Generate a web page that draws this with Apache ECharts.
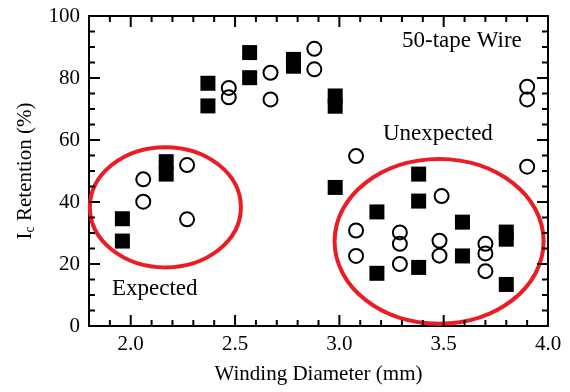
<!DOCTYPE html>
<html>
<head>
<meta charset="utf-8">
<script src="https://cdn.jsdelivr.net/npm/echarts@6/dist/echarts.min.js"></script>
<style>
  html, body { margin: 0; padding: 0; background: #fff; }
  #chart { width: 570px; height: 392px; }
</style>
</head>
<body>
<div id="chart"></div>
<script>
// filled squares
const squareX = [1.96, 1.96, 2.17, 2.17, 2.37, 2.37, 2.57, 2.57, 2.78, 2.78, 2.98, 2.98, 2.98, 3.18, 3.18, 3.38, 3.38, 3.38, 3.59, 3.59, 3.80, 3.80, 3.80]
const squareY = [34.6, 27.4, 53.0, 49.0, 78.3, 71.0, 88.2, 80.1, 86.0, 83.8, 74.2, 70.9, 44.7, 36.8, 17.0, 49.0, 40.3, 18.9, 33.5, 22.6, 30.3, 28.0, 13.4]
// open circles
const circleX = [2.06, 2.06, 2.27, 2.27, 2.47, 2.47, 2.67, 2.67, 2.88, 2.88, 3.08, 3.08, 3.08, 3.29, 3.29, 3.29, 3.49, 3.48, 3.48, 3.70, 3.70, 3.70, 3.90, 3.90, 3.90]
const circleY = [47.3, 40.1, 51.9, 34.4, 76.8, 73.8, 81.7, 73.1, 89.4, 82.8, 54.8, 30.8, 22.6, 30.2, 26.5, 20.0, 41.9, 27.5, 22.7, 26.5, 23.4, 17.7, 77.2, 73.1, 51.4]
// red ellipses: centre x, centre y, radius x, radius y (data units)
const ellipses = [
  [2.166, 38.3, 0.362, 19.4],
  [3.478, 27.3, 0.501, 26.6]
]
// tick marks (long ones carry labels)
const xMajorTicks = [2.0, 2.5, 3.0, 3.5]
const xMinorTicks = [1.9, 2.1, 2.2, 2.3, 2.4, 2.6, 2.7, 2.8, 2.9, 3.1, 3.2, 3.3, 3.4, 3.6, 3.7, 3.8, 3.9]
const yMajorTicks = [20, 40, 60, 80]
const yMinorTicks = [5, 10, 15, 25, 30, 35, 45, 50, 55, 65, 70, 75, 85, 90, 95]

const xMin = 1.8, xMax = 4.0, yMin = 0, yMax = 100

const font = '"Liberation Serif", "Times New Roman", serif'
const black = '#000'

const chart = echarts.init(document.getElementById('chart'))

function isHalf(v) {
  return Math.abs(v * 2 - Math.round(v * 2)) < 1e-6
}

function xAxisDef(pos, withLabels) {
  return {
    type: 'value',
    position: pos,
    min: xMin,
    max: xMax,
    interval: 0.1,
    axisLine: { show: true, onZero: false, lineStyle: { color: black, width: 2 } },
    axisTick: { show: false },
    axisLabel: withLabels ? {
      show: true,
      formatter: v => (isHalf(v) && v > 1.9 ? v.toFixed(1) : ''),
      color: black,
      fontFamily: font,
      fontSize: 21,
      margin: 8
    } : { show: false },
    splitLine: { show: false },
    name: withLabels ? 'Winding Diameter (mm)' : '',
    nameLocation: 'middle',
    nameGap: 38,
    nameTextStyle: { color: black, fontFamily: font, fontSize: 21 }
  }
}

function yAxisDef(pos, withLabels) {
  return {
    type: 'value',
    position: pos,
    min: yMin,
    max: yMax,
    interval: 20,
    axisLine: { show: true, onZero: false, lineStyle: { color: black, width: 2 } },
    axisTick: { show: false },
    minorTick: { show: false },
    axisLabel: withLabels ? { color: black, fontFamily: font, fontSize: 21, margin: 9 } : { show: false },
    splitLine: { show: false },
    name: withLabels ? '{i|I}{c|c}{i| Retention (%)}' : '',
    nameLocation: 'middle',
    nameGap: 52,
    nameTextStyle: {
      color: black,
      fontFamily: font,
      fontSize: 21,
      rich: {
        i: { fontFamily: font, fontSize: 21, color: black, lineHeight: 24 },
        c: { fontFamily: font, fontSize: 14, color: black, lineHeight: 14, verticalAlign: 'bottom' }
      }
    }
  }
}

// inward tick marks drawn as thin rect symbols on the frame
function tickSeries(points, size, offset) {
  return {
    type: 'scatter',
    silent: true,
    clip: false,
    symbol: 'rect',
    symbolSize: size,
    symbolOffset: offset,
    itemStyle: { color: black, opacity: 1 },
    data: points
  }
}

chart.setOption({
  animation: false,
  grid: { left: 89, right: 22, top: 16, bottom: 66 },
  xAxis: [xAxisDef('bottom', true), xAxisDef('top', false)],
  yAxis: [yAxisDef('left', true), yAxisDef('right', false)],
  series: [
    {
      type: 'custom',
      silent: true,
      clip: false,
      data: ellipses,
      renderItem: function (params, api) {
        const c = api.coord([api.value(0), api.value(1)])
        const s = api.size([api.value(2), api.value(3)])
        return {
          type: 'ellipse',
          shape: { cx: c[0], cy: c[1], rx: s[0], ry: s[1] },
          style: { fill: 'none', stroke: '#ec1c24', lineWidth: 4 }
        }
      }
    },
    tickSeries(xMajorTicks.map(x => [x, yMin]), [2, 11], [0, -5.5]),
    tickSeries(xMinorTicks.map(x => [x, yMin]), [2, 6], [0, -3]),
    tickSeries(xMajorTicks.map(x => [x, yMax]), [2, 11], [0, 5.5]),
    tickSeries(xMinorTicks.map(x => [x, yMax]), [2, 6], [0, 3]),
    tickSeries(yMajorTicks.map(y => [xMin, y]), [11, 2], [5.5, 0]),
    tickSeries(yMinorTicks.map(y => [xMin, y]), [6, 2], [3, 0]),
    tickSeries(yMajorTicks.map(y => [xMax, y]), [11, 2], [-5.5, 0]),
    tickSeries(yMinorTicks.map(y => [xMax, y]), [6, 2], [-3, 0]),
    {
      type: 'scatter',
      symbol: 'rect',
      symbolSize: 15,
      itemStyle: { color: black, opacity: 1 },
      data: squareX.map((x, i) => [x, squareY[i]])
    },
    {
      type: 'scatter',
      symbol: 'circle',
      symbolSize: 14,
      itemStyle: { color: 'transparent', borderColor: black, borderWidth: 2, opacity: 1 },
      data: circleX.map((x, i) => [x, circleY[i]])
    }
  ]
})

chart.setOption({
  graphic: [
    { type: 'text', left: 402, top: 29, style: { text: '50-tape Wire', fill: black, font: '23px ' + font } },
    { type: 'text', left: 383, top: 122, style: { text: 'Unexpected', fill: black, font: '23px ' + font } },
    { type: 'text', left: 112, top: 277, style: { text: 'Expected', fill: black, font: '23px ' + font } }
  ]
})
</script>
</body>
</html>
